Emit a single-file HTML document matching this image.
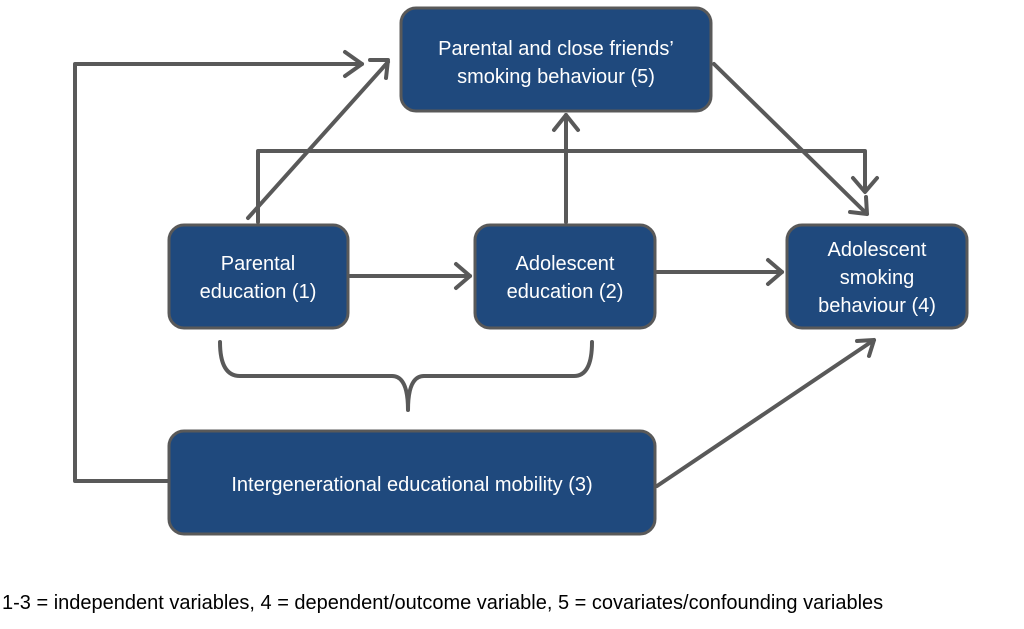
<!DOCTYPE html>
<html><head><style>
body{margin:0;background:#fff;width:1024px;height:624px;overflow:hidden;font-family:"Liberation Sans",sans-serif}
</style></head><body>
<svg width="1024" height="624" xmlns="http://www.w3.org/2000/svg" font-family="Liberation Sans, sans-serif">
<defs>
<marker id="a" viewBox="0 0 10 10" refX="9" refY="5" markerWidth="5" markerHeight="5" orient="auto" markerUnits="userSpaceOnUse" style="overflow:visible">
<path d="M-2,-5 L9,5 L-2,15" transform="scale(1.6) translate(0,-2.5) scale(1,0.5) translate(0,5)" fill="none" stroke="#595959" stroke-width="2.5"/>
</marker>
</defs>
<g fill="none" stroke="#595959" stroke-width="4" stroke-linecap="round" stroke-linejoin="round">
<polyline points="169,481 75,481 75,64 362,64"/>
<polyline points="345,52 362,64 345,76"/>
<line x1="248" y1="218" x2="388" y2="62"/>
<polyline points="370,60 388,60 386,78"/>
<polyline points="258,222 258,151 865,151 865,190"/>
<polyline points="853,178 865,192 877,178"/>
<line x1="566" y1="222" x2="566" y2="115"/>
<polyline points="554,130 566,115 578,130"/>
<line x1="350" y1="276" x2="470" y2="276"/>
<polyline points="456,264 470,276 456,288"/>
<line x1="657" y1="272" x2="782" y2="272"/>
<polyline points="768,260 782,272 768,284"/>
<line x1="714" y1="64" x2="867" y2="214"/>
<polyline points="850,212 867,214 866,197"/>
<line x1="657" y1="486" x2="874" y2="340"/>
<polyline points="857,341 874,340 869,356"/>
<path d="M220,342 Q220,376 240,376 L392,376 Q408,376 408,410 Q408,376 424,376 L574,376 Q592,376 592,342"/>
</g>
<g fill="#1f497d" stroke="#595959" stroke-width="3">
<rect x="401" y="8" width="310" height="103" rx="15"/>
<rect x="169" y="225" width="179" height="103" rx="15"/>
<rect x="475" y="225" width="180" height="103" rx="15"/>
<rect x="787" y="225" width="180" height="103" rx="15"/>
<rect x="169" y="431" width="486" height="103" rx="15"/>
</g>
<g fill="#fff" font-size="20" text-anchor="middle">
<text x="556" y="55">Parental and close friends’</text>
<text x="556" y="83">smoking behaviour (5)</text>
<text x="258" y="270">Parental</text>
<text x="258" y="298">education (1)</text>
<text x="565" y="270">Adolescent</text>
<text x="565" y="298">education (2)</text>
<text x="877" y="256">Adolescent</text>
<text x="877" y="284">smoking</text>
<text x="877" y="312">behaviour (4)</text>
<text x="412" y="491">Intergenerational educational mobility (3)</text>
</g>
<text x="2" y="609" font-size="20" fill="#000">1-3 = independent variables, 4 = dependent/outcome variable, 5 = covariates/confounding variables</text>
</svg>
</body></html>
